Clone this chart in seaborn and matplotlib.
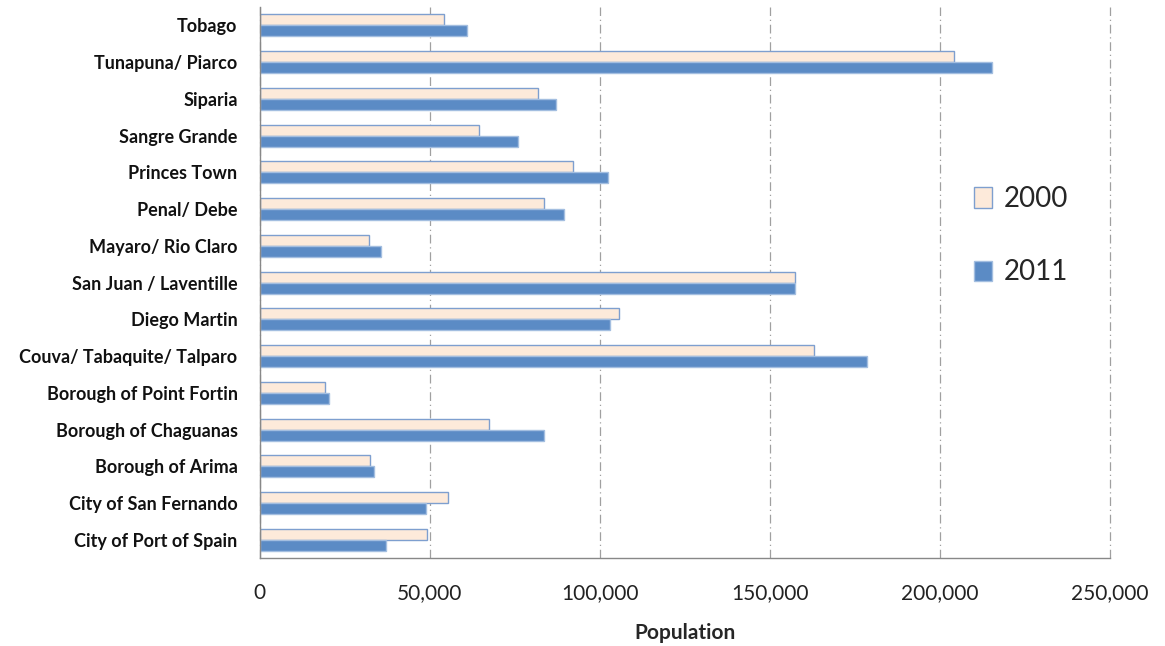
import pandas as pd
import matplotlib
matplotlib.use("Agg")
import matplotlib.pyplot as plt
import seaborn as sns

regions = [
    "Tobago", "Tunapuna/ Piarco", "Siparia", "Sangre Grande", "Princes Town",
    "Penal/ Debe", "Mayaro/ Rio Claro", "San Juan / Laventille", "Diego Martin",
    "Couva/ Tabaquite/ Talparo", "Borough of Point Fortin", "Borough of Chaguanas",
    "Borough of Arima", "City of San Fernando", "City of Port of Spain",
]
pop_2000 = [54084, 203975, 81917, 64343, 91947, 83609, 32143, 157295, 105720,
            162779, 19056, 67433, 32278, 55419, 49031]
pop_2011 = [60874, 215119, 86949, 75766, 102375, 89392, 35650, 157258, 102957,
            178410, 20235, 83516, 33606, 48838, 37074]
years = ["2000", "2011"]
x_ticks = [0, 50000, 100000, 150000, 200000, 250000]

df = pd.DataFrame({
    "region": regions * 2,
    "population": pop_2000 + pop_2011,
    "year": [years[0]] * len(regions) + [years[1]] * len(regions),
})

sns.set_style("white")
plt.rcParams["font.family"] = ["Lato", "DejaVu Sans"]

fig = plt.figure(figsize=(11.65, 6.46), dpi=100)
ax = fig.add_axes([0.223, 0.136, 0.730, 0.853])

fills = {"2000": "#FDEADA", "2011": "#5B8BC5"}
edges = {"2000": "#7E9FCF", "2011": "#A3BEE0"}

sns.barplot(data=df, y="region", x="population", hue="year", order=regions,
            hue_order=years, palette=fills, width=0.6, orient="h",
            saturation=1, ax=ax, legend=True)

for cont, yr in zip(ax.containers, years):
    for bar in cont:
        bar.set_edgecolor(edges[yr])
        bar.set_linewidth(1.0)

ax.set_xlim(0, 250000)
ax.set_ylim(len(regions) - 0.5, -0.5)
ax.set_xticks(x_ticks)
ax.set_xticklabels([f"{v:,}" for v in x_ticks], fontsize=15, color="#222222")
ax.set_yticks(range(len(regions)))
ax.set_yticklabels(regions, fontsize=13, fontweight="bold", color="#111111")
ax.set_yticks([i - 0.5 for i in range(len(regions) + 1)], minor=True)
ax.tick_params(axis="y", which="major", length=0, pad=16)
ax.tick_params(axis="y", which="minor", length=6, color="#888888", direction="out")
ax.tick_params(axis="x", which="major", length=6, color="#888888", direction="out", pad=12)

ax.set_xlabel("Population", fontsize=15, fontweight="bold", labelpad=14)
ax.set_ylabel("")

ax.grid(axis="x", color="#A0A0A0", linestyle=(0, (7, 3, 1, 3)), linewidth=0.9)
for gl in ax.get_xgridlines():
    gl.set_clip_on(False)
ax.set_axisbelow(True)

for side in ["top", "right"]:
    ax.spines[side].set_visible(False)
for side in ["left", "bottom"]:
    ax.spines[side].set_color("#888888")
    ax.spines[side].set_linewidth(1.0)

handles, labels = ax.get_legend_handles_labels()
for h, yr in zip(handles, years):
    h.set_edgecolor(edges[yr])
ax.legend(handles, labels, loc="center left", bbox_to_anchor=(0.81, 0.585),
          frameon=False, fontsize=20, handlelength=0.65, handleheight=0.75,
          handletextpad=0.45, labelspacing=1.7)

fig.savefig("out.png", dpi=100)
